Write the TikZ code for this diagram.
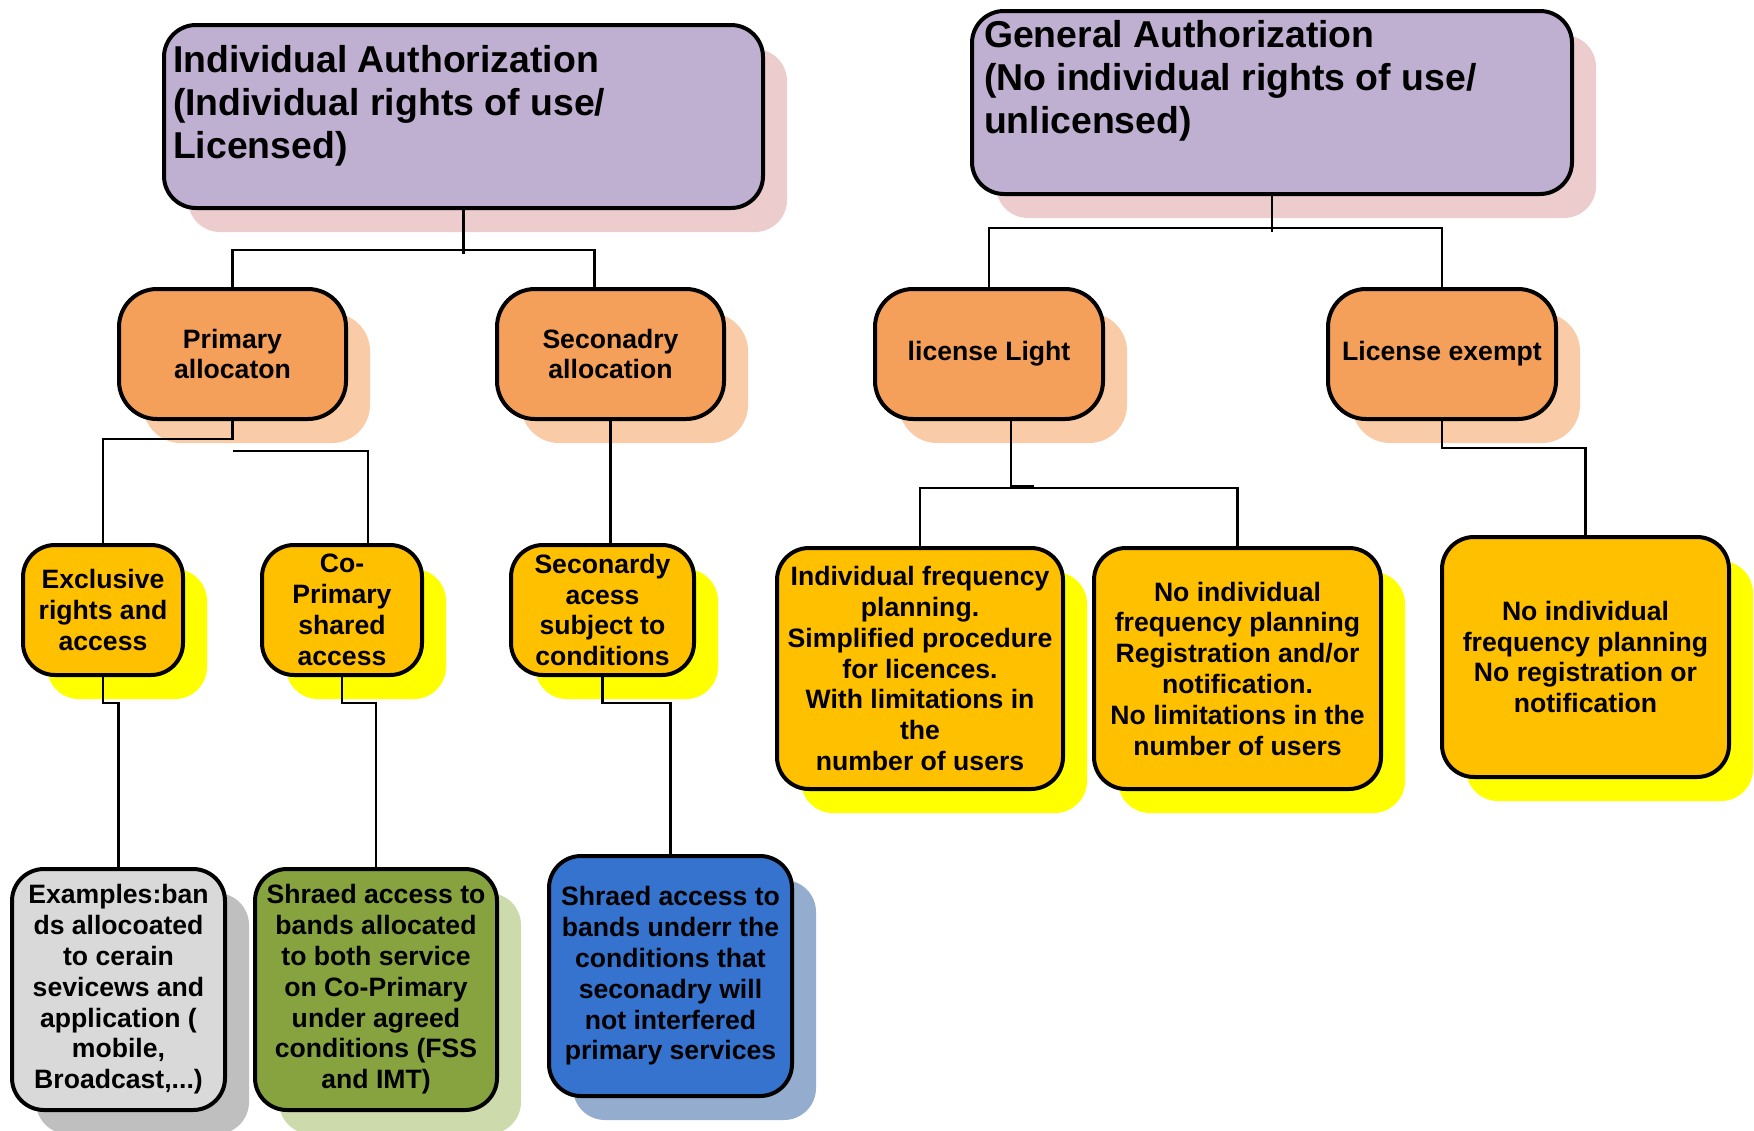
\documentclass[tikz,border=0pt]{standalone}
\usepackage{fontspec}
\setmainfont{Liberation Sans}
\usetikzlibrary{calc,shadows}
\definecolor{purp}{HTML}{BFAFD0}
\definecolor{pinksh}{HTML}{ECCCCC}
\definecolor{orng}{HTML}{F4A05B}
\definecolor{orngsh}{HTML}{F9CBA6}
\definecolor{gold}{HTML}{FFC000}
\definecolor{yelsh}{HTML}{FFFF00}
\definecolor{grayf}{HTML}{D9D9D9}
\definecolor{graysh}{HTML}{BFBFBF}
\definecolor{greenf}{HTML}{86A340}
\definecolor{greensh}{HTML}{CDDAAB}
\definecolor{bluef}{HTML}{3573CE}
\definecolor{bluesh}{HTML}{94ACCE}
\begin{document}
\begin{tikzpicture}[x=0.5pt,y=-0.5pt,
  conn/.style={draw=black, line width=1.2pt},
  shad/.style={general shadow={fill=#1, shadow xshift=12pt, shadow yshift=-12pt}},
  base/.style={draw=black, line width=2pt, rounded corners=16pt, inner sep=0pt,
    align=center, font=\bfseries\fontsize{13.3}{15.4}\selectfont},
  topbox/.style={base, fill=purp, shad=pinksh, align=left,
    font=\bfseries\fontsize{18.7}{21.5}\selectfont},
  obox/.style={base, fill=orng, shad=orngsh, rounded corners=19pt},
  ybox/.style={base, fill=gold, shad=yelsh},
  gbox/.style={base, fill=grayf, shad=graysh},
  grbox/.style={base, fill=greenf, shad=greensh},
  bbox/.style={base, fill=bluef, shad=bluesh}
]
\useasboundingbox (0,0) rectangle (1754,1130);

% top level
\node[topbox, inner xsep=4.5pt] (IA) at (463.5,116.5)
  {\parbox[c][91.5pt][t]{290.5pt}{\rule{0pt}{23.5pt}Individual Authorization\\(Individual rights of use/\\Licensed)}};
\node[topbox, inner xsep=6pt] (GA) at (1272,102.5)
  {\parbox[c][91.5pt][t]{288pt}{\rule{0pt}{18pt}General Authorization\\(No individual rights of use/\\unlicensed)}};

% second level
\node[obox, minimum width=113.5pt, minimum height=65pt] (prim) at (232.5,354) {Primary\\allocaton};
\node[obox, minimum width=113.5pt, minimum height=65pt] (sec) at (610.5,354) {Seconadry\\allocation};
\node[obox, minimum width=114pt, minimum height=65pt] (light) at (989,354) {license Light};
\node[obox, minimum width=114pt, minimum height=65pt] (exempt) at (1442,354) {License exempt};

% third level
\node[ybox, minimum width=80pt, minimum height=65pt] (excl) at (103,610) {Exclusive\\rights and\\access};
\node[ybox, minimum width=80pt, minimum height=65pt] (copri) at (342,610) {Co-\\Primary\\shared\\access};
\node[ybox, minimum width=91.5pt, minimum height=65pt] (secacc) at (602.5,610) {Seconardy\\acess\\subject to\\conditions};
\node[ybox, minimum width=143pt, minimum height=120.5pt] (ifp) at (920,668.5)
  {Individual frequency\\planning.\\Simplified procedure\\for licences.\\With limitations in\\the\\number of users};
\node[ybox, minimum width=143.5pt, minimum height=120.5pt] (nifp) at (1237.5,668.5)
  {No individual\\frequency planning\\Registration and/or\\notification.\\No limitations in the\\number of users};
\node[ybox, minimum width=143.5pt, minimum height=120pt] (nifp2) at (1585.5,657)
  {No individual\\frequency planning\\No registration or\\notification};

% bottom level
\node[gbox, minimum width=106.5pt, minimum height=120.5pt] (ex) at (118.5,989.5)
  {Examples:ban\\ds allocoated\\to cerain\\sevicews and\\application (\\mobile,\\Broadcast,...)};
\node[grbox, minimum width=121pt, minimum height=120.5pt] (green) at (376,989.5)
  {Shraed access to\\bands allocated\\to both service\\on Co-Primary\\under agreed\\conditions (FSS\\and IMT)};
\node[bbox, minimum width=121.5pt, minimum height=120pt] (blue) at (670.5,976)
  {Shraed access to\\bands underr the\\conditions that\\seconadry will\\not interfered\\primary services};

% helper coordinates
\coordinate (secin) at ($(sec.north)+(-16,0)$);
\coordinate (pstub) at ($(prim.south)+(0,30)$);
\coordinate (copin) at ($(copri.north)+(26,0)$);
\coordinate (lout) at ($(light.south)+(22,0)$);

% connectors
\draw[conn] (IA.south) -- ++(0,44);
\draw[conn] (prim.north) -- ++(0,-37) -| (secin);
\draw[conn] (GA.south) -- ++(0,36);
\draw[conn] (light.north) -- ++(0,-59) -| (exempt.north);
\draw[conn] (prim.south) -- ++(0,18) -| (excl.north);
\draw[conn] (pstub) -| (copin);
\draw[conn] (sec.south) -- (sec.south |- secacc.north);
\draw[conn] (excl.south) -- ++(0,26) -| (ex.north);
\draw[conn] (copri.south) -- ++(0,26) -| (green.north);
\draw[conn] (secacc.south) -- ++(0,26) -| (blue.north);
\draw[conn] (lout) -- ++(0,65) -- ++(23,0);
\draw[conn] (ifp.north) -- ++(0,-58) -| (nifp.north);
\draw[conn] (exempt.south) -- ++(0,27) -| (nifp2.north);
\end{tikzpicture}
\end{document}
